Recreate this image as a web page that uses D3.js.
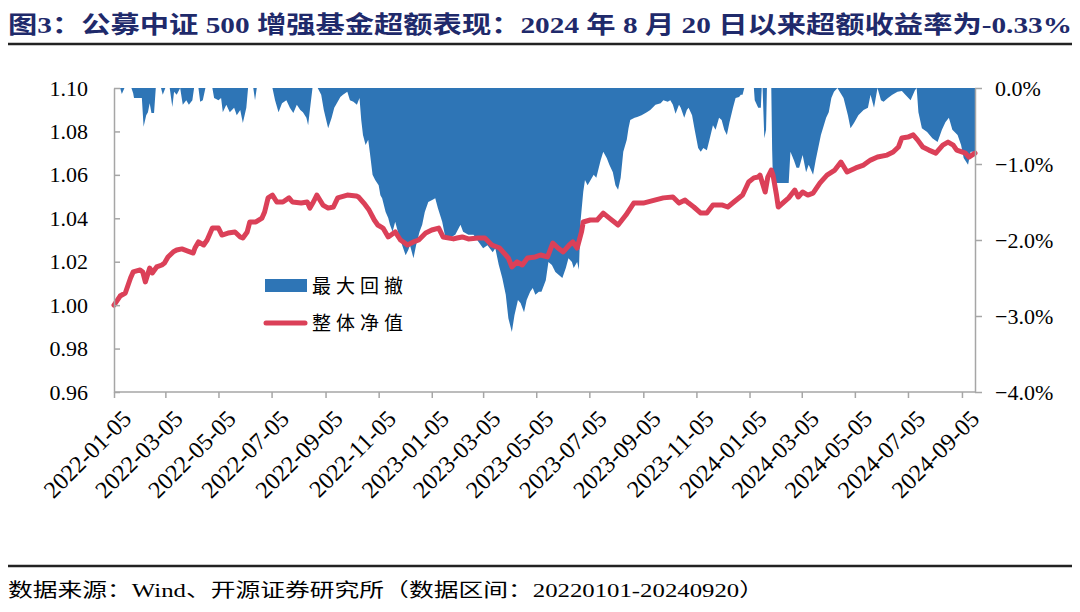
<!DOCTYPE html>
<html>
<head>
<meta charset="utf-8">
<script src="https://cdn.jsdelivr.net/npm/d3@7"></script>
<style>
  html, body { margin: 0; padding: 0; background: #fff; }
  svg { display: block; }
  .serif { font-family: "Liberation Serif", "Times New Roman", Times, "Noto Sans CJK SC", serif; }
  .cjk { font-family: "Liberation Serif", "Noto Sans CJK SC", serif; }
</style>
</head>
<body>
<svg id="chart" width="1080" height="612"></svg>
<script>
// ---------- data ----------
const titleText = "图3：公募中证 500 增强基金超额表现：2024 年 8 月 20 日以来超额收益率为-0.33%";
const sourceText = "数据来源：Wind、开源证券研究所（数据区间：20220101-20240920）";
const seriesNames = ["最大回撤", "整体净值"];

const xTickDates = ["2022-01-05","2022-03-05","2022-05-05","2022-07-05","2022-09-05","2022-11-05",
  "2023-01-05","2023-03-05","2023-05-05","2023-07-05","2023-09-05","2023-11-05",
  "2024-01-05","2024-03-05","2024-05-05","2024-07-05","2024-09-05"];
const leftTicks = [0.96, 0.98, 1.00, 1.02, 1.04, 1.06, 1.08, 1.10];
const rightTicks = [-4, -3, -2, -1, 0];

// 整体净值 (net value)
const navDates = ["2022-01-05","2022-01-12","2022-01-18","2022-01-24","2022-01-27","2022-02-04","2022-02-07","2022-02-10","2022-02-15","2022-02-18",
"2022-02-23","2022-03-01","2022-03-04","2022-03-08","2022-03-14","2022-03-18","2022-03-24","2022-03-30","2022-04-06","2022-04-08",
"2022-04-12","2022-04-18","2022-04-22","2022-04-28","2022-05-05","2022-05-09","2022-05-16","2022-05-24","2022-05-30","2022-06-02",
"2022-06-07","2022-06-10","2022-06-17","2022-06-24","2022-06-27","2022-07-01","2022-07-06","2022-07-11","2022-07-18","2022-07-25",
"2022-07-29","2022-08-08","2022-08-15","2022-08-18","2022-08-22","2022-08-26","2022-09-02","2022-09-08","2022-09-14","2022-09-19",
"2022-09-30","2022-10-10","2022-10-13","2022-10-19","2022-10-25","2022-10-31","2022-11-04","2022-11-10","2022-11-16","2022-11-24",
"2022-11-30","2022-12-05","2022-12-08","2022-12-15","2022-12-21","2022-12-29","2023-01-05","2023-01-13","2023-01-18","2023-01-30",
"2023-02-03","2023-02-09","2023-02-16","2023-02-27","2023-03-07","2023-03-15","2023-03-24","2023-04-03","2023-04-07","2023-04-13",
"2023-04-19","2023-04-25","2023-05-04","2023-05-10","2023-05-18","2023-05-24","2023-05-30","2023-06-05","2023-06-12","2023-06-16",
"2023-06-21","2023-06-26","2023-06-28","2023-07-06","2023-07-14","2023-07-21","2023-07-28","2023-08-07","2023-08-16","2023-08-25",
"2023-09-05","2023-09-18","2023-09-28","2023-10-09","2023-10-16","2023-10-23","2023-10-27","2023-11-02","2023-11-10","2023-11-17",
"2023-11-24","2023-12-05","2023-12-11","2023-12-18","2023-12-28","2024-01-04","2024-01-10","2024-01-15","2024-01-17","2024-01-23",
"2024-01-26","2024-01-30","2024-02-01","2024-02-05","2024-02-07","2024-02-19","2024-02-26","2024-03-01","2024-03-06","2024-03-12",
"2024-03-18","2024-03-26","2024-04-03","2024-04-12","2024-04-19","2024-04-26","2024-05-06","2024-05-15","2024-05-23","2024-05-31",
"2024-06-11","2024-06-18","2024-06-24","2024-06-28","2024-07-05","2024-07-11","2024-07-16","2024-07-22","2024-07-29","2024-08-06",
"2024-08-14","2024-08-20","2024-08-26","2024-08-30","2024-09-09","2024-09-13","2024-09-20"];
const navValues = [1.000,1.0042,1.0056,1.0125,1.0153,1.0162,1.0153,1.0107,1.0171,1.0148,
1.0176,1.0185,1.0194,1.0222,1.0245,1.0254,1.0259,1.0250,1.0240,1.0263,
1.0291,1.0277,1.0300,1.0355,1.0355,1.0323,1.0332,1.0337,1.0314,1.0309,
1.0337,1.0383,1.0383,1.0401,1.0429,1.0494,1.0507,1.0475,1.0475,1.0494,
1.0475,1.0470,1.0475,1.0447,1.0475,1.0507,1.0461,1.0447,1.0452,1.0494,
1.0507,1.0503,1.0498,1.0470,1.0438,1.0392,1.0369,1.0355,1.0314,1.0337,
1.0300,1.0286,1.0277,1.0291,1.0300,1.0332,1.0346,1.0355,1.0314,1.0305,
1.0309,1.0314,1.0305,1.0309,1.0309,1.0277,1.0263,1.0217,1.0176,1.0199,
1.0185,1.0217,1.0222,1.0231,1.0222,1.0286,1.0263,1.0245,1.0277,1.0291,
1.0263,1.0337,1.0383,1.0392,1.0392,1.0424,1.0401,1.0369,1.0415,1.0470,
1.0470,1.0484,1.0494,1.0498,1.0470,1.0484,1.0470,1.0452,1.0424,1.0424,
1.0461,1.0461,1.0452,1.0475,1.0507,1.0567,1.0586,1.0590,1.0599,1.0521,
1.0590,1.0622,1.0599,1.0507,1.0452,1.0494,1.0530,1.0498,1.0521,1.0507,
1.0516,1.0563,1.0599,1.0622,1.0659,1.0613,1.0632,1.0645,1.0668,1.0682,
1.0691,1.0705,1.0728,1.0770,1.0774,1.0784,1.0761,1.0728,1.0714,1.0700,
1.0737,1.0751,1.0737,1.0714,1.0700,1.0682,1.0700];

// 最大回撤 (drawdown, %)
const ddDates = ["2022-01-05","2022-01-12","2022-01-14","2022-01-17","2022-01-25","2022-01-27","2022-01-28","2022-02-03","2022-02-06","2022-02-08",
"2022-02-11","2022-02-13","2022-02-15","2022-02-17","2022-02-20","2022-02-22","2022-02-28","2022-03-02","2022-03-05","2022-03-10",
"2022-03-13","2022-03-15","2022-03-18","2022-03-22","2022-03-25","2022-03-29","2022-04-01","2022-04-05","2022-04-07","2022-04-12",
"2022-04-14","2022-04-17","2022-04-20","2022-04-28","2022-04-30","2022-05-05","2022-05-08","2022-05-10","2022-05-14","2022-05-18",
"2022-05-23","2022-05-26","2022-05-30","2022-06-02","2022-06-06","2022-06-08","2022-06-14","2022-06-16","2022-06-18","2022-07-06",
"2022-07-09","2022-07-13","2022-07-17","2022-07-22","2022-07-26","2022-07-30","2022-08-03","2022-08-07","2022-08-10","2022-08-14",
"2022-08-16","2022-08-18","2022-08-21","2022-08-27","2022-08-31","2022-09-03","2022-09-08","2022-09-12","2022-09-15","2022-09-17",
"2022-09-22","2022-09-25","2022-09-30","2022-10-03","2022-10-07","2022-10-11","2022-10-14","2022-10-16","2022-10-18","2022-10-21",
"2022-10-24","2022-10-26","2022-10-29","2022-11-01","2022-11-05","2022-11-07","2022-11-09","2022-11-13","2022-11-16","2022-11-18",
"2022-11-21","2022-11-24","2022-11-28","2022-12-02","2022-12-06","2022-12-09","2022-12-11","2022-12-15","2022-12-18","2022-12-22",
"2022-12-25","2022-12-28","2023-01-01","2023-01-06","2023-01-09","2023-01-12","2023-01-17","2023-01-20","2023-01-26","2023-02-01",
"2023-02-07","2023-02-10","2023-02-16","2023-02-22","2023-02-28","2023-03-05","2023-03-10","2023-03-16","2023-03-19","2023-03-23",
"2023-03-27","2023-03-31","2023-04-03","2023-04-07","2023-04-10","2023-04-14","2023-04-17","2023-04-21","2023-04-24","2023-04-28",
"2023-05-01","2023-05-04","2023-05-08","2023-05-11","2023-05-16","2023-05-19","2023-05-23","2023-05-27","2023-05-31","2023-06-04",
"2023-06-08","2023-06-11","2023-06-15","2023-06-17","2023-06-21","2023-06-23","2023-06-25","2023-06-28","2023-06-30","2023-07-03",
"2023-07-05","2023-07-10","2023-07-13","2023-07-18","2023-07-21","2023-07-25","2023-07-28","2023-08-01","2023-08-04","2023-08-07",
"2023-08-10","2023-08-13","2023-08-17","2023-08-19","2023-08-21","2023-08-26","2023-08-29","2023-09-03","2023-09-09","2023-09-13",
"2023-09-19","2023-09-25","2023-09-28","2023-10-03","2023-10-06","2023-10-09","2023-10-12","2023-10-16","2023-10-18","2023-10-22",
"2023-10-25","2023-10-27","2023-10-31","2023-11-03","2023-11-07","2023-11-10","2023-11-13","2023-11-17","2023-11-20","2023-11-24",
"2023-11-27","2023-12-01","2023-12-04","2023-12-07","2023-12-10","2023-12-13","2023-12-17","2023-12-20","2023-12-24","2023-12-26",
"2023-12-28","2023-12-30","2024-01-10","2024-01-11","2024-01-15","2024-01-18","2024-01-19","2024-01-20","2024-01-22","2024-01-24",
"2024-01-25","2024-01-30","2024-01-31","2024-02-01","2024-02-08","2024-02-19","2024-02-21","2024-02-25","2024-02-28","2024-03-02",
"2024-03-06","2024-03-10","2024-03-13","2024-03-18","2024-03-21","2024-03-27","2024-04-02","2024-04-05","2024-04-08","2024-04-11",
"2024-04-15","2024-04-22","2024-04-27","2024-04-30","2024-05-04","2024-05-09","2024-05-15","2024-05-20","2024-05-23","2024-05-27",
"2024-05-31","2024-06-04","2024-06-07","2024-06-12","2024-06-17","2024-06-23","2024-06-28","2024-07-02","2024-07-08","2024-07-13",
"2024-07-15","2024-07-17","2024-07-21","2024-07-27","2024-08-02","2024-08-08","2024-08-13","2024-08-17","2024-08-21","2024-08-25",
"2024-08-31","2024-09-04","2024-09-07","2024-09-12","2024-09-15","2024-09-20"];
const ddValues = [0,0,-0.08,0,0,-0.07,-0.13,-0.13,-0.13,-0.51,
-0.36,-0.32,-0.20,-0.33,-0.33,0,0,-0.09,0,0,
-0.25,-0.05,-0.09,0,-0.22,-0.16,-0.22,-0.16,0,0,
-0.18,-0.16,0,0,-0.13,-0.16,-0.13,-0.32,-0.22,-0.32,
-0.26,-0.36,-0.29,-0.46,-0.26,0,0,-0.16,0,0,
-0.16,-0.32,-0.20,-0.16,-0.26,-0.33,-0.22,-0.29,-0.32,-0.39,
-0.49,-0.29,0,0,-0.09,-0.29,-0.53,-0.39,-0.26,-0.22,
-0.12,-0.09,-0.05,-0.16,-0.18,-0.22,-0.13,-0.42,-0.62,-0.75,
-0.68,-0.86,-1.14,-1.21,-1.28,-1.41,-1.45,-1.63,-1.71,-1.80,
-1.89,-1.76,-1.93,-2.07,-2.20,-2.13,-2.07,-2.24,-2.07,-1.89,
-1.80,-1.63,-1.50,-1.47,-1.45,-1.58,-1.76,-1.93,-1.97,-1.93,
-1.80,-1.89,-1.93,-1.93,-2.03,-2.11,-2.07,-2.16,-2.11,-2.33,
-2.50,-2.72,-3.03,-3.21,-2.99,-2.79,-2.83,-2.95,-2.79,-2.68,
-2.63,-2.72,-2.68,-2.68,-2.53,-2.29,-2.33,-2.42,-2.46,-2.50,
-2.37,-2.24,-2.29,-2.37,-2.29,-2.39,-1.74,-1.37,-1.21,-1.28,
-1.24,-1.14,-1.18,-0.95,-0.84,-0.92,-1.01,-1.11,-1.28,-1.34,
-1.18,-0.84,-0.68,-0.53,-0.42,-0.39,-0.38,-0.36,-0.32,-0.29,
-0.22,-0.20,-0.16,-0.18,-0.16,-0.22,-0.34,-0.22,-0.26,-0.39,
-0.29,-0.26,-0.36,-0.55,-0.79,-0.84,-0.79,-0.82,-0.68,-0.49,
-0.55,-0.39,-0.42,-0.55,-0.62,-0.45,-0.26,-0.13,-0.12,-0.09,
-0.09,0,0,-0.16,-0.26,-0.26,0,0,-0.66,-0.55,
0,0,-0.82,-1.25,-1.25,-1.25,-0.84,-0.95,-1.05,-1.05,
-0.88,-1.11,-1.01,-1.14,-0.95,-0.62,-0.39,-0.32,-0.13,-0.05,
0,-0.13,-0.36,-0.53,-0.46,-0.36,-0.29,-0.26,-0.09,-0.26,
0,-0.16,-0.18,-0.13,-0.09,-0.05,-0.04,-0.09,-0.16,-0.03,
0,-0.32,-0.53,-0.58,-0.66,-0.71,-0.55,-0.45,-0.39,-0.55,
-0.62,-0.75,-0.92,-1.01,-0.84,-0.84];

// ---------- drawing ----------
const parse = d3.timeParse("%Y-%m-%d");
const nav = navDates.map((d, i) => ({ date: parse(d), v: navValues[i] }));
const dd = ddDates.map((d, i) => ({ date: parse(d), v: ddValues[i] }));

const svg = d3.select("#chart");
const M = { left: 114, right: 975, top: 88, bottom: 392 };

const x = d3.scaleTime().domain([parse("2022-01-05"), parse("2024-09-20")]).range([M.left, M.right]);
const yL = d3.scaleLinear().domain([0.96, 1.10]).range([M.bottom, M.top]);
const yR = d3.scaleLinear().domain([-4, 0]).range([M.bottom, M.top]);

const blue = "#2E75B6";
const red = "#DB4058";
const axisGray = "#A6A6A6";

// title
svg.append("text")
  .attr("class", "cjk")
  .attr("x", 8).attr("y", 33)
  .attr("font-weight", "bold")
  .attr("font-size", 24)
  .attr("fill", "#1F2A6B")
  .attr("textLength", 1064)
  .attr("lengthAdjust", "spacingAndGlyphs")
  .text(titleText);
svg.append("line").attr("x1", 8).attr("x2", 1072).attr("y1", 44).attr("y2", 44)
  .attr("stroke", "#222").attr("stroke-width", 2.5);

// drawdown area
const area = d3.area()
  .x(d => x(d.date))
  .y0(yR(0))
  .y1(d => yR(d.v));
svg.append("path").datum(dd)
  .attr("d", area)
  .attr("fill", blue);

// NAV line
const line = d3.line().x(d => x(d.date)).y(d => yL(d.v));
svg.append("path").datum(nav)
  .attr("d", line)
  .attr("fill", "none")
  .attr("stroke", red)
  .attr("stroke-width", 5)
  .attr("stroke-linejoin", "round")
  .attr("stroke-linecap", "round");

// axes
function styleAxis(g) {
  g.attr("font-family", null);
  g.selectAll(".domain").attr("stroke", axisGray).attr("stroke-width", 1.5);
  g.selectAll(".tick line").attr("stroke", axisGray).attr("stroke-width", 1.5);
  g.selectAll(".tick text").attr("fill", "#000").attr("class", "serif");
}

const gL = svg.append("g").attr("transform", `translate(${M.left},0)`)
  .call(d3.axisLeft(yL).tickValues(leftTicks).tickFormat(d3.format(".2f")).tickSizeInner(-6).tickSizeOuter(0).tickPadding(26));
styleAxis(gL);
gL.selectAll(".tick text").attr("font-size", 22);

const gR = svg.append("g").attr("transform", `translate(${M.right},0)`)
  .call(d3.axisRight(yR).tickValues(rightTicks).tickFormat(d => d3.format(".1f")(d) + "%").tickSizeInner(7).tickSizeOuter(0).tickPadding(13));
styleAxis(gR);
gR.selectAll(".tick text").attr("font-size", 22);

const gB = svg.append("g").attr("transform", `translate(0,${M.bottom})`)
  .call(d3.axisBottom(x).tickValues(xTickDates.map(parse)).tickFormat(d3.timeFormat("%Y-%m-%d")).tickSizeInner(6).tickSizeOuter(0));
styleAxis(gB);
gB.select(".domain").attr("d", `M${M.left},0H${M.right}`);
gB.selectAll(".tick text")
  .attr("font-size", 24)
  .attr("text-anchor", "end")
  .attr("dy", "0.35em")
  .attr("transform", "translate(6,16) rotate(-45)");

// legend
const lg = svg.append("g");
lg.append("rect").attr("x", 265).attr("y", 279).attr("width", 42).attr("height", 13).attr("fill", blue);
lg.append("text").attr("class", "cjk").attr("x", 312).attr("y", 286).attr("dy", "0.35em")
  .attr("font-size", 19).attr("letter-spacing", 5)
  .attr("fill", "#000").text(seriesNames[0]);
lg.append("line").attr("x1", 266).attr("x2", 305).attr("y1", 323).attr("y2", 323)
  .attr("stroke", red).attr("stroke-width", 5).attr("stroke-linecap", "round");
lg.append("text").attr("class", "cjk").attr("x", 312).attr("y", 323).attr("dy", "0.35em")
  .attr("font-size", 19).attr("letter-spacing", 5)
  .attr("fill", "#000").text(seriesNames[1]);

// footer
svg.append("line").attr("x1", 8).attr("x2", 1072).attr("y1", 566).attr("y2", 566)
  .attr("stroke", "#222").attr("stroke-width", 2.5);
svg.append("text").attr("class", "cjk").attr("x", 8).attr("y", 597)
  .attr("font-size", 19).attr("fill", "#000")
  .attr("textLength", 756).attr("lengthAdjust", "spacingAndGlyphs")
  .text(sourceText);
</script>
</body>
</html>
